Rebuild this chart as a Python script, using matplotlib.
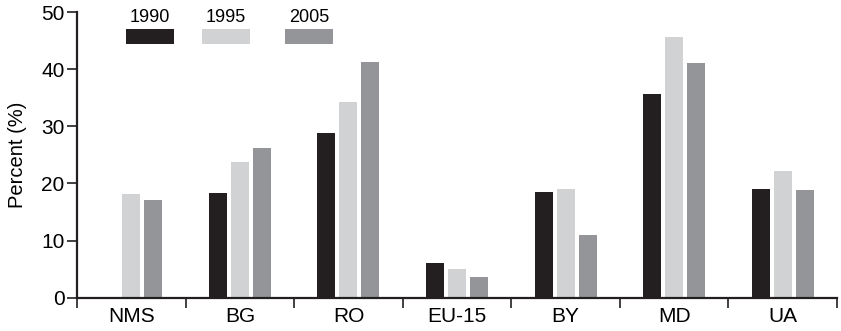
import numpy as np
import matplotlib.pyplot as plt
from matplotlib.patches import Rectangle

plt.rcParams['font.family'] = ['Liberation Sans', 'DejaVu Sans']

regions = ["NMS", "BG", "RO", "EU-15", "BY", "MD", "UA"]
years = ["1990", "1995", "2005"]
share_1990 = [np.nan, 18.3, 28.8, 6.1, 18.5, 35.6, 19.0]
share_1995 = [18.2, 23.8, 34.3, 5.0, 19.0, 45.6, 22.2]
share_2005 = [17.1, 26.2, 41.3, 3.6, 11.0, 41.1, 18.9]
colors = ["#231f20", "#d1d2d4", "#939598"]

fig = plt.figure(figsize=(8.41, 3.31), dpi=100)
ax = fig.add_axes([0.0916, 0.1006, 0.9036, 0.8631])

x = np.arange(len(regions))
width = 0.166
step = 0.2026
for i, (vals, c) in enumerate(zip([share_1990, share_1995, share_2005], colors)):
    ax.bar(x + (i - 1) * step, vals, width=width, color=c, linewidth=0)

ax.set_xlim(-0.5, len(regions) - 0.5)
ax.set_ylim(0, 50)
ax.set_yticks([0, 10, 20, 30, 40, 50])

# category labels centred, tick marks on the boundaries
ax.set_xticks(np.arange(len(regions) + 1) - 0.5)
ax.set_xticklabels([])
ax.set_xticks(x, minor=True)
ax.set_xticklabels(regions, minor=True)
ax.tick_params(axis='x', which='minor', length=0, labelsize=15, pad=7)
ax.tick_params(axis='x', which='major', length=7, width=1.2, direction='out', color='#231f20')
ax.tick_params(axis='y', length=7, width=1.2, labelsize=15, pad=2, color='#231f20')

for side in ['top', 'right']:
    ax.spines[side].set_visible(False)
for side in ['left', 'bottom']:
    ax.spines[side].set_linewidth(1.6)
    ax.spines[side].set_color('#231f20')

ax.set_ylabel("Percent (%)", fontsize=14.5, labelpad=10)

# legend: swatch with the year written above it
legend_x = [0.0645, 0.1645, 0.2737]
for lx, yr, c in zip(legend_x, years, colors):
    ax.add_patch(Rectangle((lx, 0.888), 0.063, 0.0525, transform=ax.transAxes,
                           color=c, linewidth=0, clip_on=False))
    ax.text(lx + 0.0315, 0.951, yr, transform=ax.transAxes, ha='center', va='bottom',
            fontsize=13)

fig.savefig("out.png", dpi=100)
